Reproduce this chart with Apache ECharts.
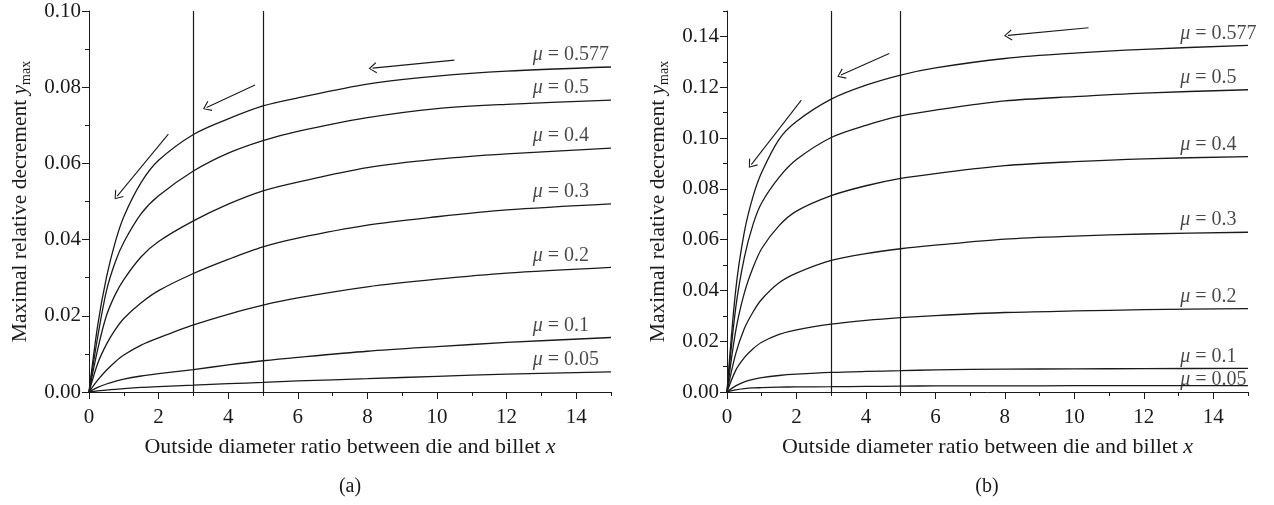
<!DOCTYPE html>
<html>
<head>
<meta charset="utf-8">
<script src="https://cdn.jsdelivr.net/npm/echarts@6/dist/echarts.min.js"></script>
<style>
html,body{margin:0;padding:0;background:#fff;}
#c{width:1274px;height:505px;}
</style>
</head>
<body>
<div id="c"></div>
<script>
// ---- data ----
const xs = [0, 0.25, 0.5, 0.75, 1, 1.5, 2, 3, 4, 5, 6, 8, 10, 12, 15];
const muNames = ['0.577', '0.5', '0.4', '0.3', '0.2', '0.1', '0.05'];

// (a)
const a577 = [0, 0.0175, 0.030, 0.0392, 0.046, 0.055, 0.0608, 0.0676, 0.0717, 0.0751, 0.0772, 0.0808, 0.0829, 0.0842, 0.0853];
const a50  = [0, 0.0145, 0.0265, 0.034, 0.0393, 0.0468, 0.0515, 0.058, 0.0627, 0.0660, 0.0684, 0.0720, 0.0744, 0.0755, 0.0766];
const a40  = [0, 0.0112, 0.0200, 0.0255, 0.0295, 0.0355, 0.0395, 0.0449, 0.0493, 0.0528, 0.0551, 0.0589, 0.0611, 0.0625, 0.0640];
const a30  = [0, 0.0075, 0.0125, 0.0163, 0.0193, 0.0234, 0.0266, 0.0311, 0.0348, 0.0381, 0.0404, 0.0438, 0.0460, 0.0478, 0.0494];
const a20  = [0, 0.0031, 0.0057, 0.0079, 0.0097, 0.0123, 0.0142, 0.0176, 0.0204, 0.0228, 0.0247, 0.0276, 0.0296, 0.0312, 0.0327];
const a10  = [0, 0.0012, 0.0021, 0.0028, 0.0034, 0.0042, 0.0048, 0.0059, 0.0071, 0.0082, 0.0091, 0.0107, 0.0119, 0.0130, 0.0143];
const a05  = [0, 0.0003, 0.0005, 0.0007, 0.0009, 0.0012, 0.0014, 0.0018, 0.0022, 0.0025, 0.0029, 0.0035, 0.0041, 0.0047, 0.0053];

// (b)
const b577 = [0, 0.040, 0.063, 0.077, 0.0865, 0.0995, 0.1065, 0.1153, 0.1208, 0.1248, 0.1276, 0.1313, 0.1334, 0.1349, 0.1365];
const b50  = [0, 0.033, 0.053, 0.066, 0.0745, 0.0845, 0.0915, 0.1002, 0.1050, 0.1087, 0.1110, 0.1146, 0.1163, 0.1177, 0.1190];
const b40  = [0, 0.024, 0.039, 0.049, 0.0565, 0.0655, 0.0712, 0.0773, 0.0812, 0.0841, 0.0860, 0.0891, 0.0907, 0.0918, 0.0927];
const b30  = [0, 0.015, 0.025, 0.0315, 0.0365, 0.0430, 0.0468, 0.0518, 0.0545, 0.0564, 0.0578, 0.0602, 0.0614, 0.0622, 0.0629];
const b20  = [0, 0.0085, 0.0135, 0.017, 0.0196, 0.0227, 0.0245, 0.0267, 0.0282, 0.0293, 0.0301, 0.0313, 0.0319, 0.0324, 0.0328];
const b10  = [0, 0.0024, 0.0040, 0.0050, 0.0057, 0.0065, 0.0070, 0.0077, 0.0081, 0.0084, 0.0087, 0.0090, 0.0091, 0.0092, 0.0093];
const b05  = [0, 0.0008, 0.0013, 0.0016, 0.0017, 0.0019, 0.0020, 0.0021, 0.0022, 0.0023, 0.0024, 0.0024, 0.0025, 0.0025, 0.0025];

// curve labels (left edge x, anchor y)
const labelXA = 12.75;
const labelYA = [0.0853, 0.0766, 0.0640, 0.0494, 0.0327, 0.0143, 0.0053];
const labelXB = 13.05;
const labelYB = [0.1365, 0.1190, 0.0927, 0.0629, 0.0328, 0.0093, 0.0000];

// vertical reference lines
const vLines = [3, 5];

// arrows [xFrom, yFrom, xTo, yTo]
const arrowsA = [[2.28, 0.0677, 0.81, 0.0514], [4.77, 0.0806, 3.38, 0.0747], [10.50, 0.0871, 8.15, 0.0850]];
const arrowsB = [[2.14, 0.1149, 0.70, 0.0895], [4.67, 0.1333, 3.28, 0.1248], [10.41, 0.1434, 8.09, 0.1404]];

// axis ticks
const xMajor = [0, 2, 4, 6, 8, 10, 12, 14];
const yMajorA = [0, 0.02, 0.04, 0.06, 0.08, 0.10];
const yMajorB = [0, 0.02, 0.04, 0.06, 0.08, 0.10, 0.12, 0.14];

// ---- chart ----
const FONT = 'Liberation Serif';
const INK = '#1a1a1a';
const chart = echarts.init(document.getElementById('c'), null, {renderer: 'canvas'});

const seriesA = [a577, a50, a40, a30, a20, a10, a05];
const seriesB = [b577, b50, b40, b30, b20, b10, b05];

function pairs(ys) { return xs.map((x, i) => [x, ys[i]]); }

const richMu = {
  m: {fontFamily: FONT, fontSize: 20, fontStyle: 'italic', color: INK},
  t: {fontFamily: FONT, fontSize: 20, color: INK}
};
const richY = {
  n: {fontFamily: FONT, fontSize: 21.5, color: INK, lineHeight: 25},
  i: {fontFamily: FONT, fontSize: 21.5, fontStyle: 'italic', color: INK, lineHeight: 25},
  s: {fontFamily: FONT, fontSize: 14, color: INK, lineHeight: 14, verticalAlign: 'bottom'}
};
const richX = {
  n: {fontFamily: FONT, fontSize: 22, color: INK, lineHeight: 25},
  i: {fontFamily: FONT, fontSize: 22, fontStyle: 'italic', color: INK, lineHeight: 25}
};

const chevron = 'path://M5,0 L10,8 L9.1,8.7 L5,1.8 L0.9,8.7 L0,8 Z';

function axesFor(gridIndex, yMax, yMajor) {
  const minorX = {
    type: 'value', gridIndex, min: 0, max: 15, interval: 1, position: 'bottom',
    axisLine: {show: true, onZero: false, lineStyle: {color: INK, width: 1}},
    axisTick: {show: true, length: 4, lineStyle: {color: INK}},
    axisLabel: {show: false}, splitLine: {show: false}
  };
  const majorX = {
    type: 'value', gridIndex, min: 0, max: 15, interval: 2, position: 'bottom',
    axisLine: {show: false, onZero: false},
    axisTick: {show: true, length: 7, customValues: xMajor, lineStyle: {color: INK}},
    axisLabel: {show: true, customValues: xMajor, margin: 15, fontFamily: FONT, fontSize: 21, color: INK},
    splitLine: {show: false},
    name: '{n|Outside diameter ratio between die and billet }{i|x}',
    nameLocation: 'middle', nameGap: 43,
    nameTextStyle: {rich: richX}
  };
  const minorY = {
    type: 'value', gridIndex, min: 0, max: yMax, interval: 0.01, position: 'left',
    axisLine: {show: true, onZero: false, lineStyle: {color: INK, width: 1}},
    axisTick: {show: true, length: 4, lineStyle: {color: INK}},
    axisLabel: {show: false}, splitLine: {show: false}
  };
  const majorY = {
    type: 'value', gridIndex, min: 0, max: yMax, interval: 0.02, position: 'left',
    axisLine: {show: false, onZero: false},
    axisTick: {show: true, length: 7, customValues: yMajor, lineStyle: {color: INK}},
    axisLabel: {show: true, customValues: yMajor, margin: 8, fontFamily: FONT, fontSize: 21, color: INK,
      formatter: v => v.toFixed(2)},
    splitLine: {show: false},
    name: '{n|Maximal relative decrement }{i|y}{s|max}',
    nameLocation: 'middle', nameGap: 56,
    nameTextStyle: {rich: richY}
  };
  return {x: [minorX, majorX], y: [minorY, majorY]};
}

const axA = axesFor(0, 0.10, yMajorA);
const axB = axesFor(1, 0.15, yMajorB);

function buildSeries(data, axisIdx, labelX, labelY, arrows) {
  const out = [];
  data.forEach((ys, k) => {
    const s = {
      type: 'line', xAxisIndex: axisIdx, yAxisIndex: axisIdx,
      data: pairs(ys), showSymbol: false, symbol: 'none',
      smooth: 0.3,
      lineStyle: {color: INK, width: 1.3}, silent: true, clip: true
    };
    if (k === 0) {
      s.markLine = {
        silent: true, symbol: ['none', 'none'], label: {show: false},
        lineStyle: {color: INK, width: 1.2, type: 'solid'},
        data: vLines.map(v => ({xAxis: v}))
      };
    }
    if (k === 1) {
      s.markLine = {
        silent: true, symbol: ['none', chevron], symbolSize: [11, 8], label: {show: false},
        lineStyle: {color: INK, width: 1.1, type: 'solid'},
        itemStyle: {color: INK},
        data: arrows.map(a => [{coord: [a[0], a[1]]}, {coord: [a[2], a[3]]}])
      };
    }
    out.push(s);
  });
  out.push({
    type: 'scatter', xAxisIndex: axisIdx, yAxisIndex: axisIdx, clip: false, silent: true,
    symbolSize: 0, itemStyle: {color: 'transparent'},
    data: labelY.map((y, k) => ({value: [labelX, y], name: muNames[k]})),
    label: {
      show: true, position: 'top', align: 'left', distance: 2,
      formatter: p => '{m|\u03bc}{t| = ' + p.name + '}',
      rich: richMu
    }
  });
  return out;
}

const option = {
  animation: false,
  backgroundColor: '#fff',
  grid: [
    {left: 89, top: 11, width: 522, height: 381, containLabel: false},
    {left: 727, top: 11, width: 521, height: 381, containLabel: false}
  ],
  xAxis: [axA.x[0], axA.x[1], axB.x[0], axB.x[1]],
  yAxis: [axA.y[0], axA.y[1], axB.y[0], axB.y[1]],
  series: [].concat(
    buildSeries(seriesA, 0, labelXA, labelYA, arrowsA),
    buildSeries(seriesB, 2, labelXB, labelYB, arrowsB)
  ),
  graphic: [
    {type: 'text', x: 350, y: 487, style: {text: '(a)', fontFamily: FONT, fontSize: 20, fill: INK, align: 'center', verticalAlign: 'middle'}},
    {type: 'text', x: 987, y: 487, style: {text: '(b)', fontFamily: FONT, fontSize: 20, fill: INK, align: 'center', verticalAlign: 'middle'}}
  ]
};
chart.setOption(option);
</script>
</body>
</html>
